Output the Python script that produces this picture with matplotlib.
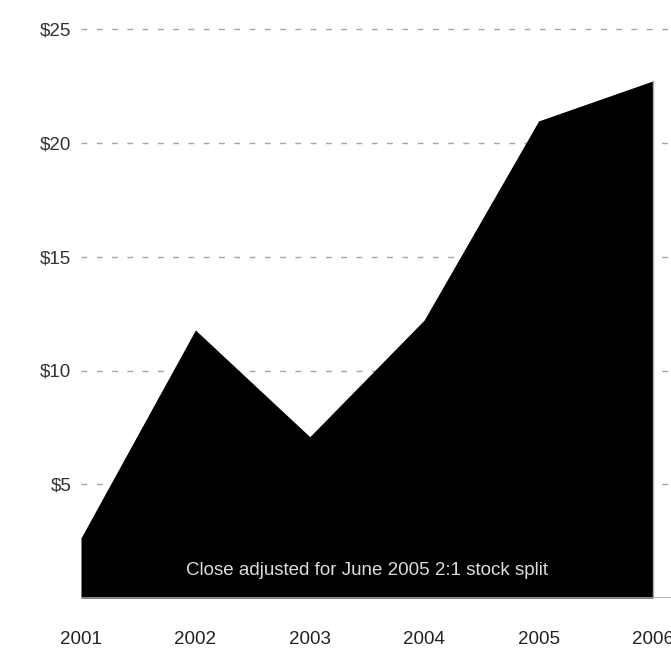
import matplotlib
matplotlib.use("Agg")
import matplotlib.pyplot as plt

years = [2001, 2002, 2003, 2004, 2005, 2006]
close = [2.64, 11.78, 7.09, 12.22, 20.97, 22.73]
y_ticks = [5, 10, 15, 20, 25]
y_labels = ["$5", "$10", "$15", "$20", "$25"]
note = "Close adjusted for June 2005 2:1 stock split"

plt.rcParams['font.family'] = ['Liberation Sans', 'DejaVu Sans']

fig = plt.figure(figsize=(6.71, 6.58), dpi=100)
ax = fig.add_axes([81/671, 60/658, 590/671, 598/658])

x_right = 2006 + 18/114.4
ax.set_xlim(2001, x_right)
ax.set_ylim(0, 598/22.75)

for t in y_ticks:
    ax.axhline(t, color='#b0a396', lw=1, dashes=(4.2, 6.8), zorder=1)

ax.fill_between(years, close, 0, color='black', lw=0, zorder=2)
ax.plot([years[-1], years[-1]], [0, close[-1]], color='#aaaaaa', lw=1, zorder=3)
ax.axhline(0, color='#aaaaaa', lw=1.2, zorder=3)

ax.text((years[0] + years[-1]) / 2, 1.23, note, color='#dddddd', fontsize=13.5,
        ha='center', va='center', zorder=4)

ax.set_yticks(y_ticks)
ax.set_yticklabels(y_labels)
ax.set_xticks(years)
ax.set_xticklabels([str(y) for y in years])
ax.tick_params(axis='y', length=0, pad=7, labelsize=13.5, labelcolor='#333333')
ax.tick_params(axis='x', length=0, pad=24, labelsize=13.5, labelcolor='#222222')
for s in ax.spines.values():
    s.set_visible(False)

fig.savefig("out.png", dpi=100)
